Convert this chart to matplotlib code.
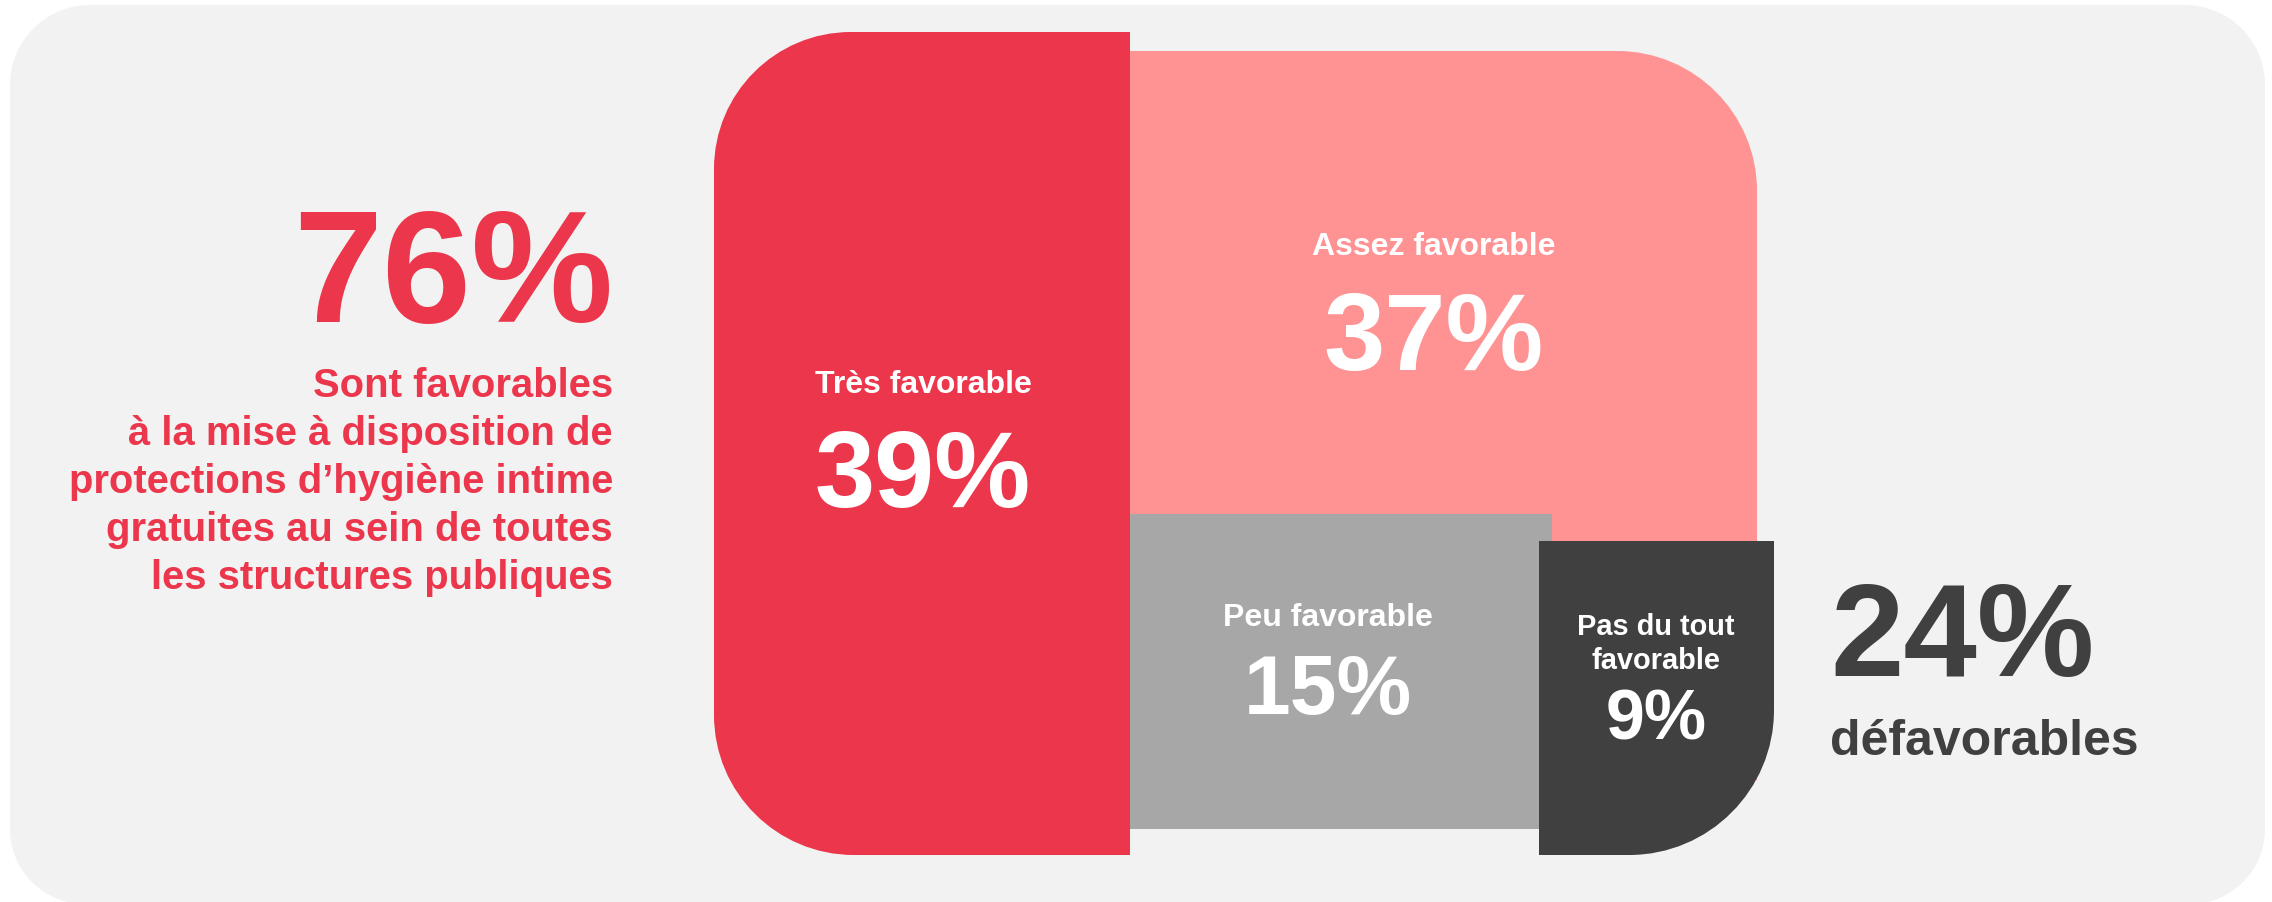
import matplotlib
matplotlib.use("Agg")
import matplotlib.pyplot as plt
from matplotlib.path import Path
from matplotlib.patches import PathPatch

# Data
categories = ['Très favorable', 'Assez favorable', 'Peu favorable', 'Pas du tout\nfavorable']
values = [39, 37, 15, 9]
colors = ['#EB364C', '#FF9293', '#A7A7A7', '#404040']
favorable = sum(values[:2])
defavorable = sum(values[2:])
subtitle = ['Sont favorables',
            'à la mise à disposition de',
            'protections d’hygiène intime',
            'gratuites au sein de toutes',
            'les structures publiques']

# Layout in pixel units (y grows downward)
boxes = [(714, 32, 1130, 855), (1130, 51, 1757, 780), (1130, 514, 1552, 829), (1539, 541, 1774, 855)]
radii = [(137, 0, 0, 140), (0, 140, 0, 0), (0, 0, 0, 0), (0, 0, 145, 0)]
draw_order = [1, 0, 2, 3]
label_pos = [(923, 393, 507, 32, 108), (1434, 255, 370, 32, 110),
             (1328, 626, 714, 32, 84), (1656, 635, 739, 29, 70)]

RED = '#EB364C'
DARK = '#404040'
BG = '#F2F2F2'
FONT = 'Liberation Sans'
PT = 0.72  # px -> pt at dpi 100


def rounded_box(x0, y0, x1, y1, tl, tr, br, bl):
    k = 0.5523
    verts = [(x0 + tl, y0), (x1 - tr, y0),
             (x1 - tr + k * tr, y0), (x1, y0 + tr - k * tr), (x1, y0 + tr),
             (x1, y1 - br),
             (x1, y1 - br + k * br), (x1 - br + k * br, y1), (x1 - br, y1),
             (x0 + bl, y1),
             (x0 + bl - k * bl, y1), (x0, y1 - bl + k * bl), (x0, y1 - bl),
             (x0, y0 + tl),
             (x0, y0 + tl - k * tl), (x0 + tl - k * tl, y0), (x0 + tl, y0),
             (x0 + tl, y0)]
    codes = ([Path.MOVETO, Path.LINETO] + [Path.CURVE4] * 3 + [Path.LINETO] + [Path.CURVE4] * 3
             + [Path.LINETO] + [Path.CURVE4] * 3 + [Path.LINETO] + [Path.CURVE4] * 3 + [Path.CLOSEPOLY])
    return Path(verts, codes)


fig = plt.figure(figsize=(22.72, 9.02), dpi=100)
fig.patch.set_facecolor('white')
ax = fig.add_axes([0, 0, 1, 1])
ax.set_xlim(0, 2272)
ax.set_ylim(902, 0)
ax.axis('off')

# rounded background card
ax.add_patch(PathPatch(rounded_box(10, 5, 2265, 904, 80, 80, 75, 75), facecolor=BG, edgecolor='none'))

for i in draw_order:
    x0, y0, x1, y1 = boxes[i]
    ax.add_patch(PathPatch(rounded_box(x0, y0, x1, y1, *radii[i]), facecolor=colors[i], edgecolor='none'))

for i, cat in enumerate(categories):
    cx, y_lab, y_val, fs_lab, fs_val = label_pos[i]
    lines = cat.split('\n')
    for j, line in enumerate(lines):
        ax.text(cx, y_lab + j * 34, line, color='white', fontsize=fs_lab * PT, fontweight='bold',
                family=FONT, ha='center', va='baseline')
    ax.text(cx, y_val, f'{values[i]}%', color='white', fontsize=fs_val * PT, fontweight='bold',
            family=FONT, ha='center', va='baseline')

# left summary
ax.text(613, 322, f'{favorable}%', color=RED, fontsize=160 * PT, fontweight='bold',
        family=FONT, ha='right', va='baseline')
for j, line in enumerate(subtitle):
    ax.text(613, 397 + j * 48, line, color=RED, fontsize=40 * PT, fontweight='bold',
            family=FONT, ha='right', va='baseline')

# right summary
ax.text(1830, 676, f'{defavorable}%', color=DARK, fontsize=132 * PT, fontweight='bold',
        family=FONT, ha='left', va='baseline')
ax.text(1830, 755, 'défavorables', color=DARK, fontsize=50 * PT, fontweight='bold',
        family=FONT, ha='left', va='baseline')

fig.savefig('out.png', dpi=100, facecolor='white')
